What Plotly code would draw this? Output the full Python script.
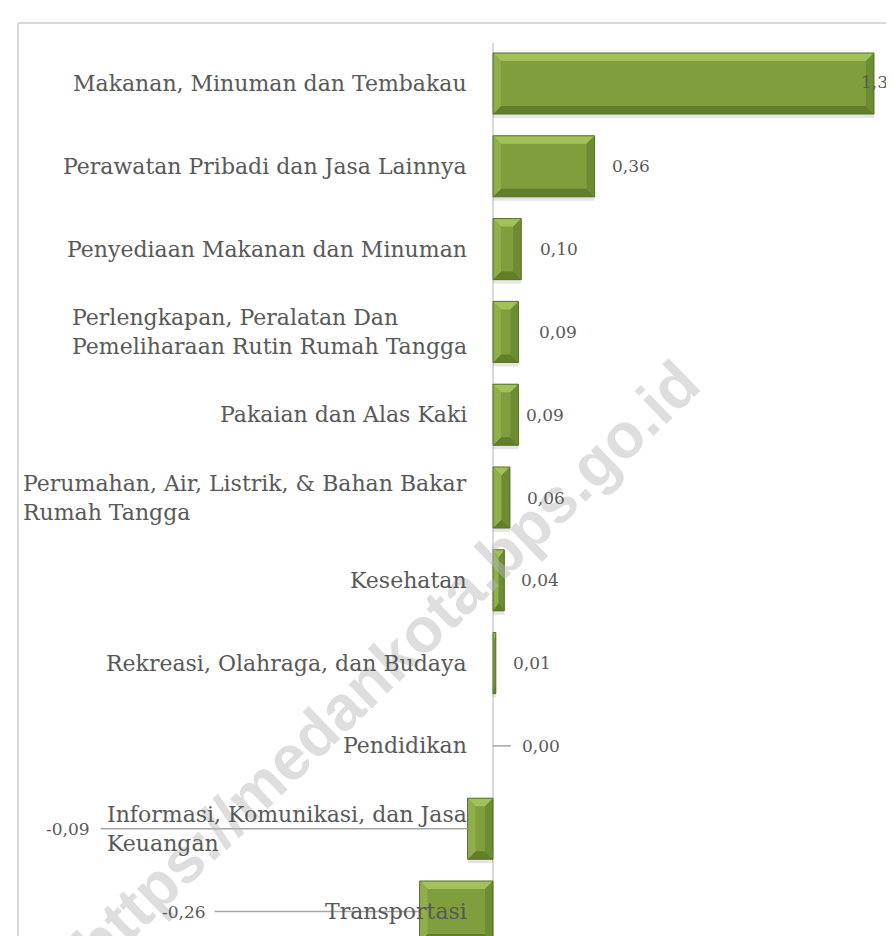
import plotly.graph_objects as go

# ---- data ----
categories = [
    "Makanan, Minuman dan Tembakau",
    "Perawatan Pribadi dan Jasa Lainnya",
    "Penyediaan Makanan dan Minuman",
    "Perlengkapan, Peralatan Dan<br>Pemeliharaan Rutin Rumah Tangga",
    "Pakaian dan Alas Kaki",
    "Perumahan, Air, Listrik, & Bahan Bakar<br>Rumah Tangga",
    "Kesehatan",
    "Rekreasi, Olahraga, dan Budaya",
    "Pendidikan",
    "Informasi, Komunikasi, dan Jasa<br>Keuangan",
    "Transportasi",
]
values = [1.35, 0.36, 0.10, 0.09, 0.09, 0.06, 0.04, 0.01, 0.00, -0.09, -0.26]
value_labels = ["1,35", "0,36", "0,10", "0,09", "0,09", "0,06", "0,04", "0,01", "0,00", "-0,09", "-0,26"]
watermark = "https://medankota.bps.go.id"

# ---- styling ----
W, H = 894, 936
PX_PER_UNIT = 282.2
AXIS_PX = 485
TOP_PX = 35
ROW_PX = 82.8
FIRST_ROW_PX = 75.5
BAR_W = 0.737
TEXT = "#595959"
SERIF = "DejaVu Serif"
label_gap = [-4, 15, 17, 19, 6, 15, 15, 15, 27, -376, -212]   # px from bar end to label edge
leader_len = [0, 0, 0, 0, 0, 0, 0, 0, 18, 367, 205]            # px
SCATTER_TEXT_PAD = 9
BEVEL_PX = 8
FACE = "#7F9E3E"
EDGE = "#55702A"
BEV_TOP = "#A6C65C"
BEV_LEFT = "#91B14C"
BEV_RIGHT = "#6D8B32"
BEV_BOT = "#5F7B2A"

n = len(categories)
ypos = list(range(n))
x_min = -AXIS_PX / PX_PER_UNIT
x_max = (W - AXIS_PX) / PX_PER_UNIT
y_top = -(FIRST_ROW_PX - TOP_PX) / ROW_PX
y_bot = y_top + (H - TOP_PX) / ROW_PX


def paper_x(px):
    return px / W


def paper_y(py):
    return 1 - (py - TOP_PX) / (H - TOP_PX)


fig = go.Figure()
# soft shadow
fig.add_trace(go.Bar(
    x=values, y=ypos, orientation="h", width=BAR_W, offset=-BAR_W / 2 + 4 / ROW_PX,
    marker=dict(color="rgba(0,0,0,0.10)", line=dict(width=0)),
    hoverinfo="skip", showlegend=False,
))
fig.add_trace(go.Bar(
    x=values, y=ypos, orientation="h", width=BAR_W, offset=-BAR_W / 2,
    marker=dict(color=FACE, line=dict(width=0)),
    customdata=categories, hovertemplate="%{customdata}: %{x}<extra></extra>", showlegend=False,
))

# bevel facets (drawn as filled traces on top of each bar)
facet_xy = {BEV_TOP: ([], []), BEV_BOT: ([], []), BEV_LEFT: ([], []), BEV_RIGHT: ([], [])}
out_x, out_y = [], []
for i, v in zip(ypos, values):
    if v == 0:
        continue
    s = 1 if v > 0 else -1
    bx = min(BEVEL_PX / PX_PER_UNIT, abs(v) / 2) * s
    by = BEVEL_PX / ROW_PX
    x0, x1 = 0.0, v
    yt, yb = i - BAR_W / 2, i + BAR_W / 2
    facets = [
        ([(x0, yt), (x1, yt), (x1 - bx, yt + by), (x0 + bx, yt + by)], BEV_TOP),
        ([(x0, yb), (x1, yb), (x1 - bx, yb - by), (x0 + bx, yb - by)], BEV_BOT),
        ([(x0, yt), (x0 + bx, yt + by), (x0 + bx, yb - by), (x0, yb)], BEV_LEFT if s > 0 else BEV_RIGHT),
        ([(x1, yt), (x1 - bx, yt + by), (x1 - bx, yb - by), (x1, yb)], BEV_RIGHT if s > 0 else BEV_LEFT),
    ]
    for pts, col in facets:
        xs, ys = facet_xy[col]
        xs.extend([p[0] for p in pts] + [pts[0][0], None])
        ys.extend([p[1] for p in pts] + [pts[0][1], None])
    out_x.extend([x0, x1, x1, x0, x0, None])
    out_y.extend([yt, yt, yb, yb, yt, None])

for col, (xs, ys) in facet_xy.items():
    fig.add_trace(go.Scatter(
        x=xs, y=ys, mode="lines", fill="toself", fillcolor=col,
        line=dict(width=0, color=col), opacity=0.9, hoverinfo="skip", showlegend=False,
    ))
fig.add_trace(go.Scatter(
    x=out_x, y=out_y, mode="lines", line=dict(color=EDGE, width=1),
    hoverinfo="skip", showlegend=False,
))

shapes = [
    dict(type="line", xref="paper", yref="paper", x0=paper_x(10), x1=1.0,
         y0=paper_y(15), y1=paper_y(15), line=dict(color="#d9d9d9", width=2)),
    dict(type="line", xref="paper", yref="paper", x0=paper_x(10), x1=paper_x(10),
         y0=paper_y(15), y1=0, line=dict(color="#d9d9d9", width=2)),
]

annotations = []
# watermark first, so that every other text is drawn over it
annotations.append(dict(
    text=watermark, xref="paper", yref="paper", x=paper_x(378), y=paper_y(656),
    xanchor="center", yanchor="middle", textangle=-44, showarrow=False,
    font=dict(family="Liberation Sans", size=63, color="rgba(185,185,185,0.47)", weight="bold"),
))

edge_x, edge_y, edge_t = [], [], []
for i, cat, v, lab, gap, ll in zip(ypos, categories, values, value_labels, label_gap, leader_len):
    annotations.append(dict(
        text=cat, x=0, y=i, xref="x", yref="y", xanchor="right", yanchor="middle",
        align="left", xshift=-24, showarrow=False,
        font=dict(family=SERIF, size=22, color=TEXT),
    ))
    if v * PX_PER_UNIT + AXIS_PX + gap + 40 > W:
        # label runs off the right edge: drawn as trace text so it is clipped, not moved
        edge_x.append(v + (gap - SCATTER_TEXT_PAD) / PX_PER_UNIT)
        edge_y.append(i)
        edge_t.append(lab)
    else:
        annotations.append(dict(
            text=lab, x=v, y=i, xref="x", yref="y",
            xanchor="left" if gap >= 0 else "right", yanchor="middle",
            xshift=gap, showarrow=False,
            font=dict(family=SERIF, size=17, color=TEXT),
        ))
    if ll:
        x0, x1 = (-ll, 0) if v < 0 else (0, ll)
        shapes.append(dict(
            type="line", xref="x", yref="y", xsizemode="pixel", xanchor=v,
            x0=x0, x1=x1, y0=i, y1=i,
            line=dict(color="#a6a6a6", width=1.5), layer="above",
        ))

fig.add_trace(go.Scatter(
    x=edge_x, y=edge_y, text=edge_t, mode="text", textposition="middle right",
    textfont=dict(family=SERIF, size=17, color=TEXT), cliponaxis=False,
    hoverinfo="skip", showlegend=False,
))

fig.update_layout(
    width=W, height=H,
    margin=dict(l=0, r=0, t=TOP_PX, b=0),
    paper_bgcolor="white", plot_bgcolor="white",
    barmode="overlay",
    xaxis=dict(range=[x_min, x_max], showticklabels=False, showgrid=False,
               zeroline=True, zerolinecolor="#d9d9d9", zerolinewidth=1.5, fixedrange=True),
    yaxis=dict(type="linear", range=[y_bot, y_top], showticklabels=False, showgrid=False,
               zeroline=False, fixedrange=True),
    annotations=annotations,
    shapes=shapes,
)

fig.write_html("out.html")
